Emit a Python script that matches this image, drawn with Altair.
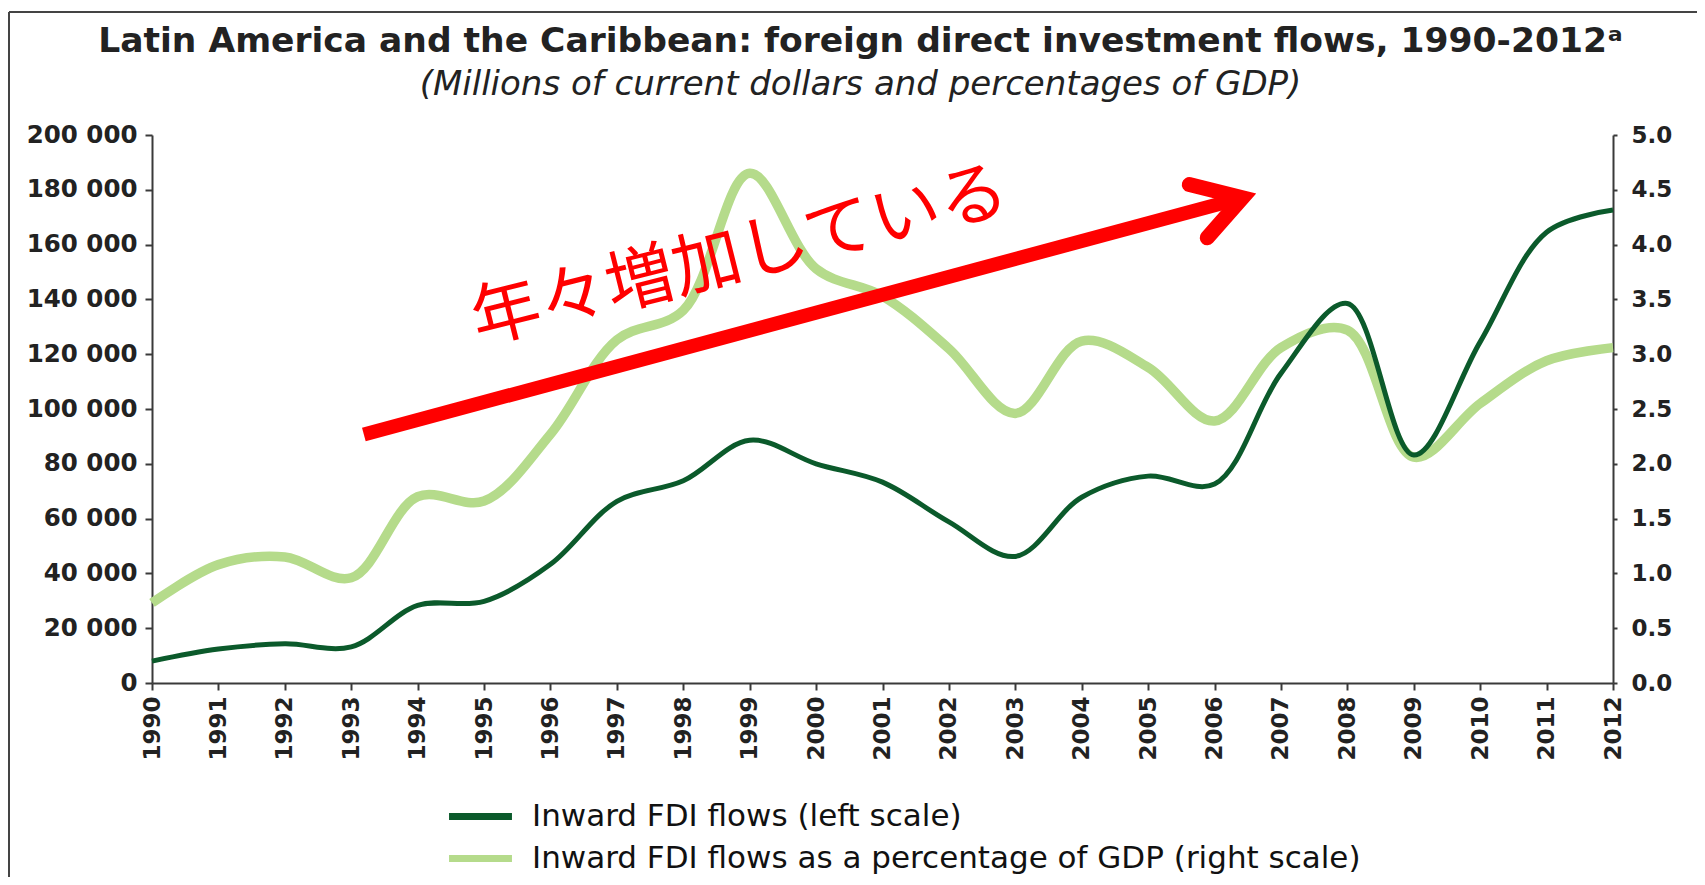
import altair as alt
import pandas as pd

# ---- data ----
years = list(range(1990, 2013))
fdi_flows = [8000, 12400, 14300, 13200, 28300, 29800, 43300, 66300, 73800, 88600,
             80000, 73300, 58800, 46200, 67800, 75500, 72600, 113000, 138500, 83200,
             124500, 164500, 172600]
fdi_pct = [0.73, 1.08, 1.15, 0.96, 1.70, 1.66, 2.27, 3.13, 3.40, 4.65,
           3.78, 3.53, 3.05, 2.46, 3.12, 2.88, 2.39, 3.06, 3.22, 2.06,
           2.55, 2.94, 3.06]
series_names = ["Inward FDI flows (left scale)",
                "Inward FDI flows as a percentage of  GDP (right scale)"]
series_colors = ["#0b5a2b", "#b5db8b"]

left_ticks = list(range(0, 200001, 20000))
right_ticks = [0.0, 0.5, 1.0, 1.5, 2.0, 2.5, 3.0, 3.5, 4.0, 4.5, 5.0]

# annotation (in data units of the left scale)
arrow_shaft_year = [1993.19, 2006.42]
arrow_shaft_value = [90700, 177100]
arrow_head_year = [2005.62, 2006.42, 2005.89]
arrow_head_value = [181900, 177100, 162500]
note_text = "年々増加している"
note_year = [1998.85]
note_value = [155500]

title_text = "Latin America and the Caribbean: foreign direct investment flows, 1990-2012ᵃ"
subtitle_text = "(Millions of current dollars and percentages of GDP)"

# ---- tables ----
df_fdi = pd.DataFrame({"year": years, "value": fdi_flows, "series": series_names[0]})
df_pct = pd.DataFrame({"year": years, "value": fdi_pct, "series": series_names[1]})
df_shaft = pd.DataFrame({"year": arrow_shaft_year, "value": arrow_shaft_value,
                         "o": list(range(len(arrow_shaft_year)))})
df_head = pd.DataFrame({"year": arrow_head_year, "value": arrow_head_value,
                        "o": list(range(len(arrow_head_year)))})
df_note = pd.DataFrame({"year": note_year, "value": note_value, "label": [note_text]})
df_one = pd.DataFrame({"k": [0]})

LABEL_FONT = "DejaVu Sans"
AX_COLOR = "#3a3a3a"

x_axis = alt.Axis(values=years, format="d", labelAngle=270, labelFont=LABEL_FONT,
                  labelFontSize=23, labelFontWeight="bold", labelColor="#222",
                  labelFlush=False, labelOverlap=False, labelPadding=6,
                  tickSize=7, tickColor=AX_COLOR, domainColor=AX_COLOR,
                  domainWidth=2, tickWidth=2, grid=False, title=None)
x_enc = alt.X("year:Q", scale=alt.Scale(domain=[1990, 2012], nice=False, zero=False),
              axis=x_axis)

left_axis = alt.Axis(orient="left", values=left_ticks,
                     labelExpr="replace(format(datum.value, ','), ',', ' ')",
                     labelFont=LABEL_FONT, labelFontSize=24.5, labelFontWeight="bold",
                     labelColor="#222", labelFlush=False, labelOverlap=False,
                     labelPadding=8, tickSize=7, tickColor=AX_COLOR, tickWidth=2,
                     domainColor=AX_COLOR, domainWidth=2, grid=False, title=None)
right_axis = alt.Axis(orient="right", values=right_ticks, format=".1f",
                      labelFont=LABEL_FONT, labelFontSize=23, labelFontWeight="bold",
                      labelColor="#222", labelFlush=False, labelOverlap=False,
                      labelPadding=14, tickSize=4, tickColor=AX_COLOR, tickWidth=2,
                      domainColor=AX_COLOR, domainWidth=2, grid=False, title=None)

color_scale = alt.Scale(domain=series_names, range=series_colors)
legend = alt.Legend(orient="none", legendX=313, legendY=666, direction="vertical",
                    title=None, symbolType="M-6,0H6", symbolSize=110,
                    symbolStrokeWidth=7, labelFont=LABEL_FONT, labelFontSize=31,
                    labelColor="#111", labelOffset=36, rowPadding=10, padding=0,
                    labelLimit=1200)

left_y = alt.Y("value:Q", scale=alt.Scale(domain=[0, 200000], nice=False), axis=left_axis)

dark_line = alt.Chart(df_fdi).mark_line(strokeWidth=5, interpolate="catmull-rom").encode(
    x=x_enc, y=left_y,
    color=alt.Color("series:N", scale=color_scale, legend=legend))

light_line = alt.Chart(df_pct).mark_line(strokeWidth=9.5, interpolate="catmull-rom").encode(
    x=x_enc,
    y=alt.Y("value:Q", scale=alt.Scale(domain=[0, 5], nice=False), axis=right_axis),
    color=alt.Color("series:N", scale=color_scale, legend=legend))

shaft = alt.Chart(df_shaft).mark_line(color="#ff0000", strokeWidth=14, strokeCap="butt").encode(
    x=x_enc, y=left_y, order="o:Q")
head = alt.Chart(df_head).mark_line(color="#ff0000", strokeWidth=15, strokeCap="round",
                                    strokeJoin="miter", strokeMiterLimit=10).encode(
    x=x_enc, y=left_y, order="o:Q")
note = alt.Chart(df_note).mark_text(font="Noto Sans CJK JP", fontSize=69, color="#ff0000",
                                    angle=346, align="center", baseline="middle").encode(
    x=x_enc, y=left_y, text="label:N")

frame_top = alt.Chart(df_one).mark_rule(color="#444", strokeWidth=2).encode(
    x=alt.value(-143), x2=alt.value(1560), y=alt.value(-123))
frame_left = alt.Chart(df_one).mark_rule(color="#444", strokeWidth=2).encode(
    x=alt.value(-143), y=alt.value(-123), y2=alt.value(760))

inner = alt.layer(dark_line, shaft, head, note)

chart = alt.layer(frame_top, frame_left, light_line, inner).resolve_scale(
    y="independent"
).properties(
    width=1461, height=548,
    padding={"left": 144, "top": 127, "right": 84, "bottom": 194},
    autosize=alt.AutoSizeParams(type="none"),
    title=alt.TitleParams(text=title_text, subtitle=subtitle_text, anchor="middle",
                          frame="bounds", font=LABEL_FONT, fontSize=34.5,
                          fontWeight="bold", color="#222", subtitleFont=LABEL_FONT,
                          subtitleFontSize=34, subtitleFontStyle="italic",
                          subtitleColor="#222", subtitlePadding=9, offset=-92),
    background="white"
).configure_view(stroke=None)

chart.save("out.html", embed_options={"renderer": "svg", "actions": False})
